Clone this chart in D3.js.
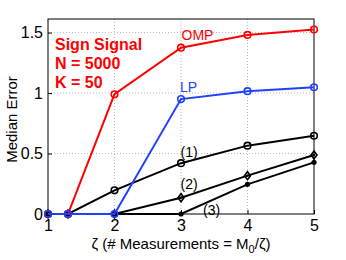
<!DOCTYPE html>
<html><head><meta charset="utf-8">
<script src="https://cdn.jsdelivr.net/npm/d3@7"></script>
<style>body{margin:0;background:#fff}svg{display:block}text{font-family:"Liberation Sans",Arial,sans-serif}</style>
</head><body>
<svg id="c" width="346" height="260"></svg>
<script>
const xs = [1, 1.3, 2, 3, 4, 5];
const omp = [0, 0, 0.99, 1.375, 1.48, 1.525];
const lp = [0, 0, 0, 0.95, 1.015, 1.048];
const s1 = [0, 0, 0.196, 0.42, 0.565, 0.647];
const s2 = [0, 0, 0, 0.135, 0.317, 0.488];
const s3 = [0, 0, 0, 0, 0.245, 0.427];
const xTicks = [1, 2, 3, 4, 5];
const yTicks = [0, 0.5, 1, 1.5];
const yTickLabels = ["0", "0.5", "1", "1.5"];
const annot = ["Sign Signal", "N = 5000", "K = 50"];

const svg = d3.select("#c");
const L = 48, R = 314, T = 19, B = 214;
const x = d3.scaleLinear().domain([1, 5]).range([L, R]);
const y = d3.scaleLinear().domain([0, 1.612]).range([B, T]);

// grid
const g = svg.append("g");
g.selectAll(".gx").data(xTicks.slice(1, -1)).enter().append("line")
  .attr("x1", d => x(d)).attr("x2", d => x(d)).attr("y1", T).attr("y2", B)
  .attr("stroke", "#bbb").attr("stroke-width", 1).attr("stroke-dasharray", "1,2");
g.selectAll(".gy").data(yTicks.slice(1)).enter().append("line")
  .attr("x1", L).attr("x2", R).attr("y1", d => y(d)).attr("y2", d => y(d))
  .attr("stroke", "#bbb").attr("stroke-width", 1).attr("stroke-dasharray", "1,2");

// axes
const xa = svg.append("g").attr("transform", `translate(0,${B})`)
  .call(d3.axisBottom(x).tickValues(xTicks).tickSize(-4).tickPadding(6).tickFormat(d3.format("d")));
const ya = svg.append("g").attr("transform", `translate(${L},0)`)
  .call(d3.axisLeft(y).tickValues(yTicks).tickSize(-4).tickPadding(5).tickFormat((d, i) => yTickLabels[i]));
[xa, ya].forEach(a => {
  a.select(".domain").remove();
  a.selectAll("line").attr("stroke", "#000");
  a.selectAll("text").attr("font-size", 16).attr("fill", "#000").style("font-family", '"Liberation Sans",Arial,sans-serif');
});
svg.append("rect").attr("x", L).attr("y", T).attr("width", R - L).attr("height", B - T)
  .attr("fill", "none").attr("stroke", "#000").attr("stroke-width", 1);

const line = d3.line().x(d => x(d[0])).y(d => y(d[1]));
function series(vals, color, marker) {
  const pts = xs.map((v, i) => [v, vals[i]]);
  svg.append("path").datum(pts).attr("d", line).attr("fill", "none")
    .attr("stroke", color).attr("stroke-width", 2);
  const m = svg.append("g");
  pts.forEach(p => {
    const cx = x(p[0]), cy = y(p[1]);
    if (marker === "circle") {
      m.append("circle").attr("cx", cx).attr("cy", cy).attr("r", 3.3)
        .attr("fill", "none").attr("stroke", color).attr("stroke-width", 1.6);
    } else if (marker === "diamond") {
      m.append("path").attr("d", `M${cx},${cy-4}L${cx+3},${cy}L${cx},${cy+4}L${cx-3},${cy}Z`)
        .attr("fill", "none").attr("stroke", color).attr("stroke-width", 1.6);
      m.append("circle").attr("cx", cx).attr("cy", cy).attr("r", 1.2).attr("fill", color);
    } else {
      m.append("circle").attr("cx", cx).attr("cy", cy).attr("r", 2.6).attr("fill", color);
    }
  });
}
series(s3, "#000", "dot");
series(s2, "#000", "diamond");
series(s1, "#000", "circle");
series(omp, "#ff0000", "circle");
series(lp, "#2040ff", "circle");

// labels
const lab = (t, px, py, col) => svg.append("text").attr("x", px).attr("y", py).attr("font-size", 14).attr("fill", col).text(t);
lab("OMP", x(3) + 0.5, 40, "#ff0000");
lab("LP", x(3) - 1, 92, "#2040ff");
lab("(1)", x(3) - 0.5, 157, "#000");
lab("(2)", x(3) - 0.5, 189, "#000");
lab("(3)", x(3) + 22, 215, "#000");

svg.append("g").selectAll("text").data(annot).enter().append("text")
  .attr("x", 55).attr("y", (d, i) => 50 + i * 19)
  .attr("font-size", 16).attr("font-weight", "bold").attr("fill", "#ff0000").text(d => d);

// titles
const xt = svg.append("text").attr("x", (L + R) / 2).attr("y", 249).attr("text-anchor", "middle")
  .attr("font-size", 15).attr("fill", "#000");
xt.append("tspan").text("ζ (# Measurements = M");
xt.append("tspan").attr("font-size", 11).attr("dy", 4).text("0");
xt.append("tspan").attr("dy", -4).text("/ζ)");
svg.append("text").attr("transform", `translate(17,${(T + B) / 2 + 3}) rotate(-90)`)
  .attr("text-anchor", "middle").attr("font-size", 15).attr("fill", "#000").text("Median Error");
</script>
</body></html>
